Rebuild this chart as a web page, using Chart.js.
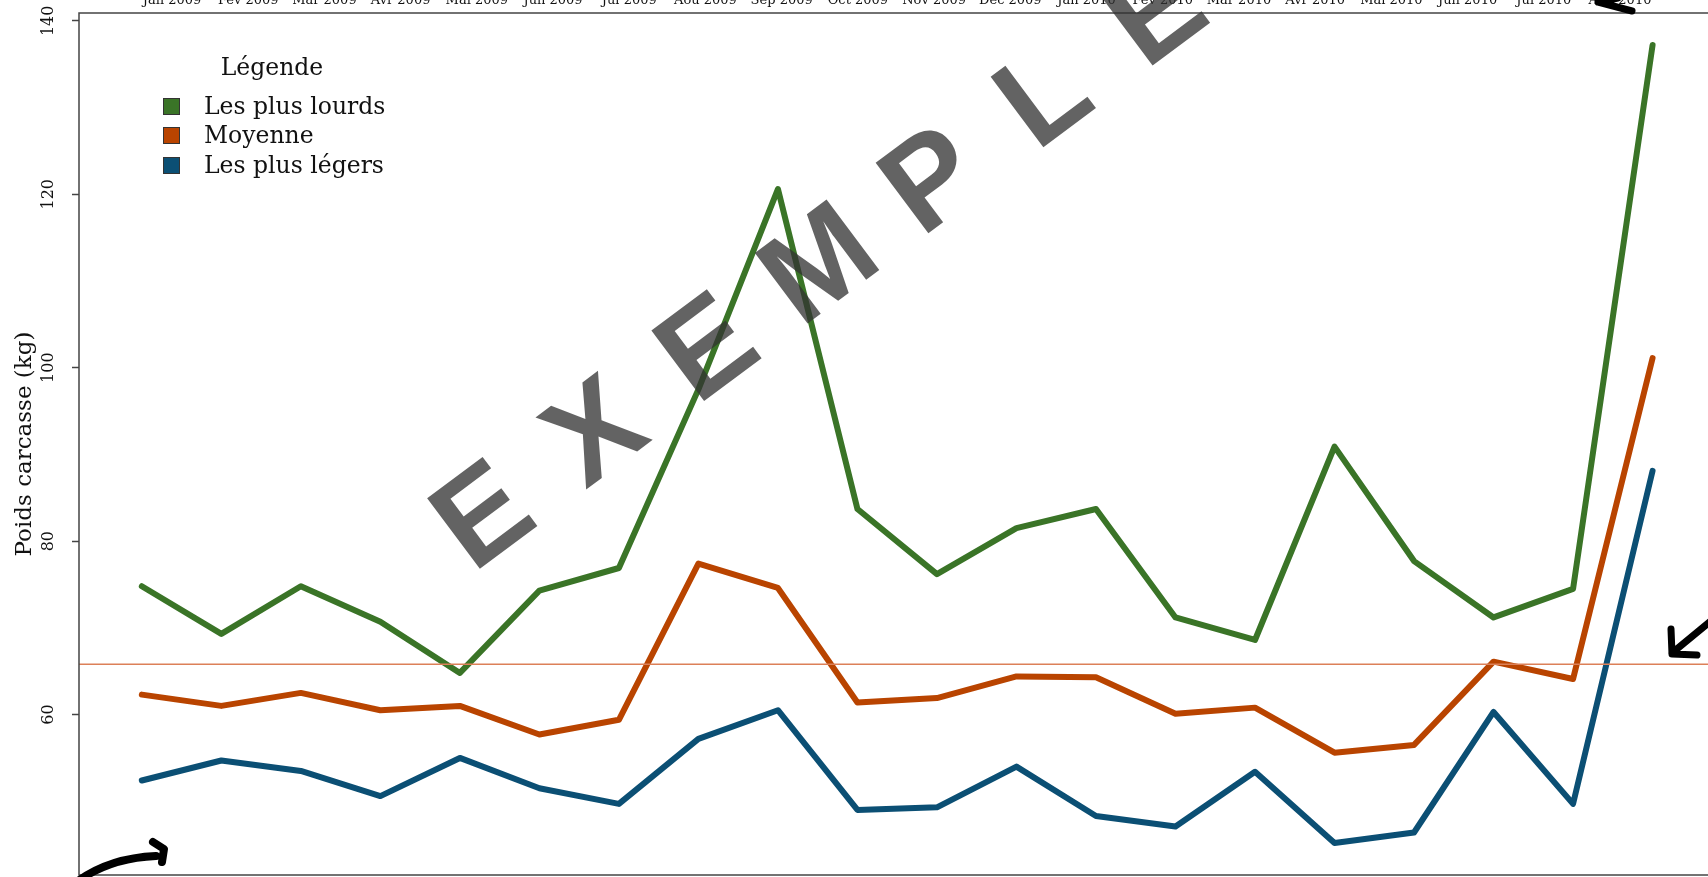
<!DOCTYPE html>
<html lang="fr">
<head>
    <meta charset="UTF-8">
    <title>Poids carcasse</title>
    <script src="https://cdn.jsdelivr.net/npm/chart.js"></script>
    <style>
        html, body {
            margin: 0;
            padding: 0;
            width: 1708px;
            height: 877px;
            overflow: hidden;
            background: #fff;
        }

        #cadre {
            position: absolute;
            left: 0;
            top: -16px;
            width: 1714px;
            height: 895px;
        }

        #legende {
            position: absolute;
            left: 0;
            top: 0;
            font-family: 'DejaVu Serif', serif;
            font-size: 23.5px;
            color: #111;
        }

        #legende div {
            position: absolute;
            height: 30px;
            line-height: 30px;
            white-space: nowrap;
        }

        #legende .carre {
            position: absolute;
            left: -41px;
            top: 7px;
            width: 17px;
            height: 17px;
            box-sizing: border-box;
            border: 1px solid #333;
        }
    </style>
</head>

<body>
    <div id="cadre"><canvas id="graphique"></canvas></div>
    <div id="legende"></div>

    <script>
        // données
        const mois = ['Jan 2009', 'Fev 2009', 'Mar 2009', 'Avr 2009', 'Mai 2009', 'Jun 2009', 'Jul 2009',
            'Aou 2009', 'Sep 2009', 'Oct 2009', 'Nov 2009', 'Dec 2009', 'Jan 2010', 'Fev 2010',
            'Mar 2010', 'Avr 2010', 'Mai 2010', 'Jun 2010', 'Jul 2010', 'Aou 2010'];
        const lourds = [74.8, 69.3, 74.8, 70.7, 64.8, 74.3, 76.9, 97.5, 120.6, 83.7, 76.2, 81.5, 83.7, 71.2,
            68.6, 90.9, 77.7, 71.2, 74.5, 137.2];
        const moyenne = [62.3, 61.0, 62.5, 60.5, 61.0, 57.7, 59.4, 77.4, 74.6, 61.4, 61.9, 64.4, 64.3, 60.1,
            60.8, 55.6, 56.5, 66.1, 64.1, 101.1];
        const legers = [52.4, 54.7, 53.5, 50.6, 55.0, 51.5, 49.7, 57.2, 60.5, 49.0, 49.3, 54.0, 48.3, 47.1,
            53.4, 45.2, 46.4, 60.3, 49.7, 88.1];
        const graduationsY = [60, 80, 100, 120, 140];
        const seuil = 65.8;

        const noms = ['Les plus lourds', 'Moyenne', 'Les plus légers'];
        const couleurs = ['#3a7427', '#b94400', '#0b4f74'];
        const series = [lourds, moyenne, legers];

        // légende
        var legende = document.getElementById('legende');
        var titre = document.createElement('div');
        titre.textContent = 'Légende';
        titre.style.left = '272px';
        titre.style.top = '52px';
        titre.style.transform = 'translateX(-50%)';
        legende.appendChild(titre);
        noms.forEach((nom, k) => {
            var ligne = document.createElement('div');
            ligne.style.left = '204px';
            ligne.style.top = (90.5 + k * 29.6) + 'px';
            ligne.innerHTML = '<span class="carre" style="background:' + couleurs[k] + '"></span>' + nom;
            legende.appendChild(ligne);
        });

        // filigrane, trait de référence et gribouillis
        const decor = {
            id: 'decor',
            afterDatasetsDraw(chart) {
                const ctx = chart.ctx;
                const zone = chart.chartArea;
                const y = chart.scales.y;

                ctx.save();
                ctx.strokeStyle = '#dc8058';
                ctx.lineWidth = 1.5;
                ctx.beginPath();
                ctx.moveTo(zone.left, y.getPixelForValue(seuil));
                ctx.lineTo(zone.right, y.getPixelForValue(seuil));
                ctx.stroke();

                ctx.strokeStyle = '#444';
                ctx.lineWidth = 1.5;
                ctx.strokeRect(zone.left, zone.top, zone.right - zone.left, zone.bottom - zone.top);

                // EXEMPLE
                ctx.translate(816, 276);
                ctx.rotate(-36.8 * Math.PI / 180);
                ctx.fillStyle = 'rgba(50, 50, 50, 0.76)';
                ctx.font = 'bold 128px "Liberation Sans"';
                ctx.textAlign = 'center';
                ctx.textBaseline = 'alphabetic';
                'EXEMPLE'.split('').forEach((lettre, k) => {
                    ctx.fillText(lettre, (k - 3) * 140, 46);
                });
                ctx.restore();

                ctx.save();
                ctx.strokeStyle = '#000';
                ctx.lineWidth = 8;
                ctx.lineCap = 'round';
                ctx.lineJoin = 'round';
                ctx.beginPath();
                ctx.moveTo(78, 897);
                ctx.quadraticCurveTo(110, 874, 156, 872);
                ctx.moveTo(153, 858);
                ctx.lineTo(164, 865);
                ctx.lineTo(162, 878);
                ctx.stroke();

                ctx.lineWidth = 7;
                ctx.beginPath();
                ctx.moveTo(1712, 636);
                ctx.lineTo(1672, 669);
                ctx.moveTo(1671, 645);
                ctx.lineTo(1672, 670);
                ctx.lineTo(1697, 671);
                ctx.stroke();

                ctx.beginPath();
                ctx.moveTo(1598, 18);
                ctx.lineTo(1632, 27);
                ctx.moveTo(1598, 18);
                ctx.lineTo(1618, 14);
                ctx.stroke();
                ctx.restore();
            }
        };

        var graphique = new Chart(document.getElementById('graphique').getContext('2d'), {
            type: 'line',
            data: {
                datasets: series.map((serie, k) => ({
                    label: noms[k],
                    data: serie.map((v, i) => ({ x: i, y: v })),
                    borderColor: couleurs[k],
                    backgroundColor: couleurs[k],
                    borderWidth: 6,
                    borderCapStyle: 'round',
                    borderJoinStyle: 'round',
                    pointRadius: 0,
                    tension: 0
                }))
            },
            options: {
                responsive: true,
                maintainAspectRatio: false,
                animation: false,
                events: [],
                layout: {
                    padding: { top: 0, left: 0, right: 1, bottom: 4 }
                },
                plugins: {
                    legend: { display: false },
                    tooltip: { enabled: false }
                },
                scales: {
                    // axe des données (non affiché)
                    x: {
                        type: 'linear',
                        display: false,
                        min: -0.79,
                        max: 19.76
                    },
                    // axe des étiquettes en haut, un peu décalé comme sur l'original
                    x2: {
                        type: 'linear',
                        axis: 'x',
                        position: 'top',
                        min: -1.22,
                        max: 20.22,
                        afterBuildTicks: (s) => { s.ticks = mois.map((m, i) => ({ value: i })); },
                        afterFit: (s) => { s.height = 29; s.paddingLeft = 0; s.paddingRight = 0; },
                        ticks: {
                            callback: (v) => mois[v],
                            autoSkip: false,
                            maxRotation: 0,
                            padding: 5,
                            color: '#111',
                            font: { family: 'DejaVu Serif', size: 13 }
                        },
                        grid: { drawOnChartArea: false, drawTicks: false },
                        border: { display: false }
                    },
                    y: {
                        min: 41.5,
                        max: 140.9,
                        afterBuildTicks: (s) => { s.ticks = graduationsY.map(v => ({ value: v })); },
                        afterFit: (s) => { s.width = 79; s.paddingTop = 0; s.paddingBottom = 0; },
                        ticks: {
                            minRotation: 90,
                            maxRotation: 90,
                            crossAlign: 'center',
                            padding: 8,
                            color: '#111',
                            font: { family: 'DejaVu Serif', size: 16 }
                        },
                        grid: {
                            drawOnChartArea: false,
                            drawTicks: true,
                            tickLength: 7,
                            tickColor: '#444',
                            tickWidth: 1.5
                        },
                        border: { display: false },
                        title: {
                            display: true,
                            text: 'Poids carcasse (kg)',
                            color: '#111',
                            font: { family: 'DejaVu Serif', size: 23 },
                            padding: { top: 11, bottom: 0 }
                        }
                    }
                }
            },
            plugins: [decor]
        });
    </script>
</body>

</html>
